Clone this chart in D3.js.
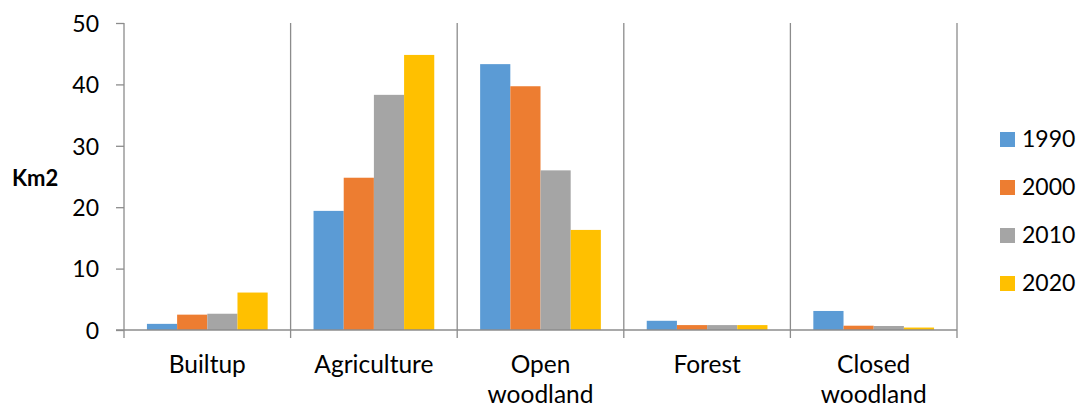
<!DOCTYPE html>
<html>
<head>
<meta charset="utf-8">
<script src="https://cdn.jsdelivr.net/npm/d3@7"></script>
<style>
  body { margin: 0; background: #fff; }
  svg text { font-family: Lato, "Open Sans", sans-serif; fill: #000; }
</style>
</head>
<body>
<div id="chart"></div>
<script>
// categories and yearly values (Km2)
const categories = ["Builtup", "Agriculture", "Open woodland", "Forest", "Closed woodland"];
const years = ["1990", "2000", "2010", "2020"];
const v1990 = [1.0, 19.4, 43.3, 1.5, 3.1];
const v2000 = [2.5, 24.8, 39.7, 0.8, 0.7];
const v2010 = [2.65, 38.3, 26.0, 0.8, 0.65];
const v2020 = [6.1, 44.8, 16.3, 0.8, 0.4];
const yTicks = [0, 10, 20, 30, 40, 50];
const colors = ["#5B9BD5", "#ED7D31", "#A5A5A5", "#FFC000"];

const seriesValues = [v1990, v2000, v2010, v2020];

const W = 1084, H = 410;
const margin = {top: 23, left: 124, right: 127, bottom: 80};
const innerW = W - margin.left - margin.right;
const innerH = H - margin.top - margin.bottom;

const svg = d3.select("#chart").append("svg")
    .attr("width", W)
    .attr("height", H);

const g = svg.append("g")
    .attr("transform", "translate(" + margin.left + "," + margin.top + ")");

const x0 = d3.scaleBand()
    .domain(categories)
    .range([0, innerW])
    .paddingInner(0)
    .paddingOuter(0);

const x1 = d3.scaleBand()
    .domain(years)
    .range([0, x0.bandwidth()])
    .paddingOuter(0.76)
    .paddingInner(0);

const y = d3.scaleLinear()
    .domain([0, 50])
    .range([innerH, 0]);

const axisColor = "#8c8c8c";

// vertical category separators (incl. tick marks below axis)
g.selectAll(".sep")
    .data(d3.range(categories.length + 1))
    .enter().append("line")
    .attr("class", "sep")
    .attr("x1", function(d) { return d * x0.step(); })
    .attr("x2", function(d) { return d * x0.step(); })
    .attr("y1", 0)
    .attr("y2", innerH + 8)
    .style("stroke", axisColor)
    .style("stroke-width", 1.3);

// y axis
const yAxis = g.append("g")
    .call(d3.axisLeft(y).tickValues(yTicks).tickSize(8).tickPadding(17));
yAxis.select(".domain").remove();
yAxis.selectAll(".tick line").style("stroke", axisColor).style("stroke-width", 1.3);
yAxis.selectAll(".tick text")
    .style("font-size", "23px")
    .attr("dy", "0.36em");

// bars
const groups = g.selectAll(".cat")
    .data(categories)
    .enter().append("g")
    .attr("class", "cat")
    .attr("transform", function(d) { return "translate(" + x0(d) + ",0)"; });

groups.selectAll("rect")
    .data(function(d, i) { return years.map(function(yr, j) { return {year: yr, value: seriesValues[j][i], j: j}; }); })
    .enter().append("rect")
    .attr("x", function(d) { return x1(d.year); })
    .attr("width", x1.bandwidth())
    .attr("y", function(d) { return y(d.value); })
    .attr("height", function(d) { return innerH - y(d.value); })
    .style("fill", function(d) { return colors[d.j]; });

// x axis line
g.append("line")
    .attr("x1", -8)
    .attr("x2", innerW)
    .attr("y1", innerH)
    .attr("y2", innerH)
    .style("stroke", axisColor)
    .style("stroke-width", 1.3);

// category labels (wrapped on space for two-word names)
groups.append("text")
    .attr("text-anchor", "middle")
    .attr("x", x0.bandwidth() / 2)
    .attr("y", innerH + 43)
    .style("font-size", "24.5px")
    .each(function(d) {
        var words = d.split(" ");
        var t = d3.select(this);
        words.forEach(function(w, i) {
            t.append("tspan")
                .attr("x", x0.bandwidth() / 2)
                .attr("dy", i === 0 ? 0 : 30)
                .text(w);
        });
    });

// y axis title
svg.append("text")
    .attr("x", 12)
    .attr("y", 186)
    .style("font-size", "22px")
    .style("font-weight", "bold")
    .text("Km2");

// legend
const legend = svg.selectAll(".legend")
    .data(years)
    .enter().append("g")
    .attr("class", "legend")
    .attr("transform", function(d, i) { return "translate(1000," + (132 + i * 48) + ")"; });

legend.append("rect")
    .attr("width", 15)
    .attr("height", 15)
    .style("fill", function(d, i) { return colors[i]; });

legend.append("text")
    .attr("x", 22)
    .attr("y", 15)
    .style("font-size", "23px")
    .text(function(d) { return d; });
</script>
</body>
</html>
